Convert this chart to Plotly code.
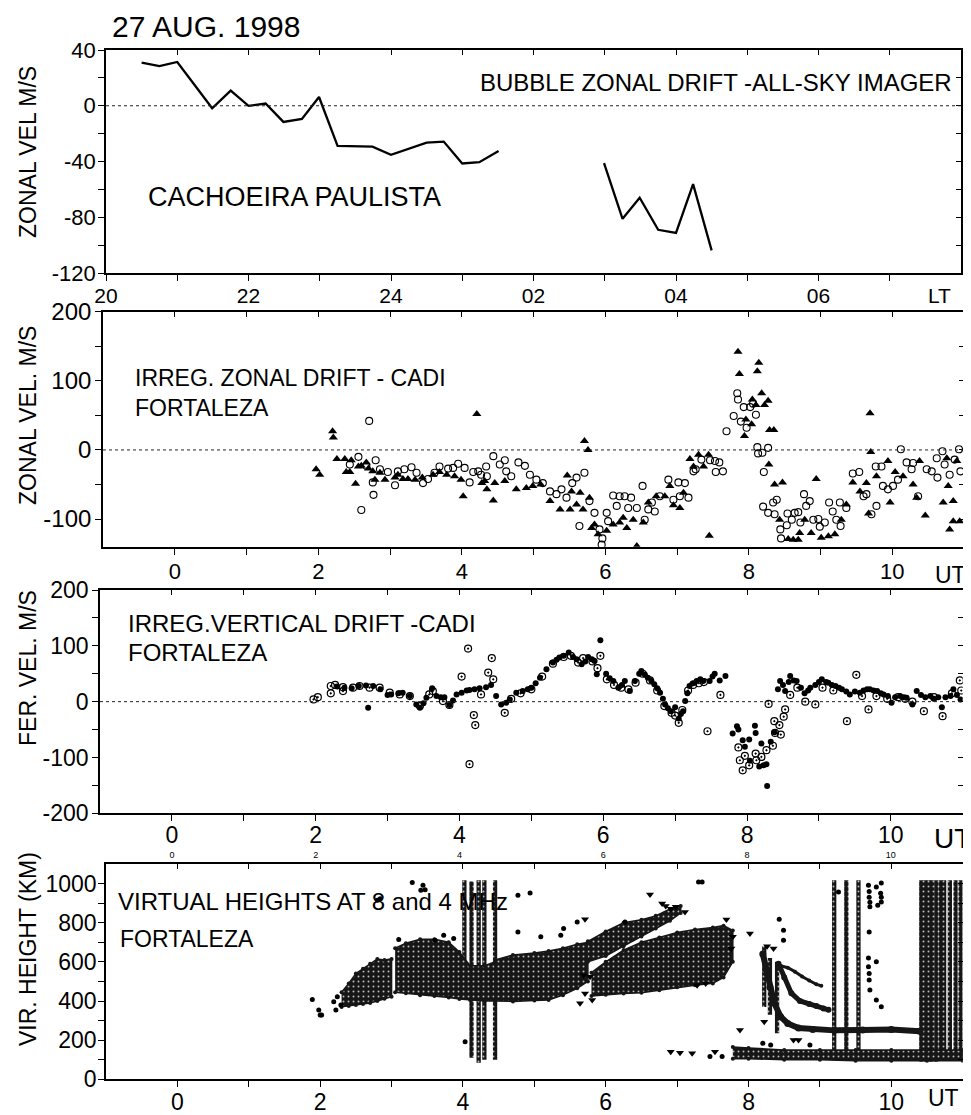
import plotly.graph_objects as go

# browser body margin offsets the figure by 8 px; the figure fills the rest of the window
WIN_W, WIN_H, OFF = 971, 1115, 8
W, H = WIN_W - OFF, WIN_H - OFF
FONT = "Liberation Sans, Arial, Helvetica, sans-serif"

# ---------------- Panel 1: bubble zonal drift (all-sky imager), LT hours ----------------
bubble_lt_a = [20.50, 20.75, 21.00, 21.49, 21.75, 22.00, 22.24, 22.49, 22.75, 22.99,
               23.25, 23.50, 23.74, 24.00, 24.25, 24.50, 24.74, 25.00, 25.24, 25.51]
bubble_vel_a = [30.9, 28.5, 31.4, -1.8, 10.9, -0.1, 1.6, -11.6, -9.4, 6.3,
                -28.8, -29.0, -29.3, -35.2, -31.0, -26.4, -25.7, -41.4, -40.5, -32.4]
bubble_lt_b = [26.99, 27.25, 27.49, 27.75, 28.00, 28.24, 28.50]
bubble_vel_b = [-41.2, -81.1, -66.0, -89.0, -91.3, -56.2, -103.8]

lt_tickvals = [20, 22, 24, 26, 28, 30]
lt_ticktext = ["20", "22", "24", "02", "04", "06"]
lt_minor = [21, 23, 25, 27, 29, 31]
lt_all = list(range(20, 33))
p1_yticks = [-120, -80, -40, 0, 40]
p1_yminor = [-100, -60, -20, 20]
p1_yall = list(range(-120, 41, 20))

# ---------------- Panel 2: irregularity zonal drift (CADI), UT hours ----------------
zon_tri_ut = [1.97, 2.02, 2.20, 2.21, 2.26, 2.37, 2.39, 2.44, 2.46, 2.52, 2.56, 2.60, 2.67, 2.70,
              2.76, 2.79, 2.86, 2.93, 3.07, 3.11, 3.18, 3.25, 3.35, 3.45, 3.60, 3.69, 3.79, 3.90,
              3.99, 4.02, 4.21, 4.28, 4.32, 4.35, 4.44, 4.46, 4.60, 4.76, 4.90, 4.99, 5.10, 5.23,
              5.37, 5.47, 5.51, 5.53, 5.60, 5.65, 5.69, 5.71, 5.76, 5.78, 5.81, 5.85, 5.90, 6.02,
              6.11, 6.20, 6.25, 6.30, 6.39, 6.44, 6.53, 6.60, 6.71, 6.83, 6.90, 6.95, 7.04, 7.09,
              7.18, 7.23, 7.30, 7.37, 7.44, 7.45, 7.85, 7.87, 7.94, 7.96, 8.04, 8.05, 8.10, 8.12,
              8.14, 8.18, 8.22, 8.27, 8.28, 8.29, 8.35, 8.36, 8.43, 8.47, 8.55, 8.62, 8.69, 8.71,
              8.78, 8.87, 8.94, 9.01, 9.11, 9.20, 9.29, 9.36, 9.45, 9.55, 9.64, 9.67, 9.69, 9.70,
              9.78, 9.94, 9.97, 10.04, 10.15, 10.29, 10.34, 10.38, 10.46, 10.71, 10.76, 10.78,
              10.80, 10.85, 10.85, 10.90, 10.94]
zon_tri_v = [-28, -36, 27, 18, -13, -13, -32, -32, -15, -49, -24, -23, -18, -27,
             -31, -43, -33, -43, -40, -36, -42, -42, -43, -40, -36, -32, -36, -38,
             -43, -67, 52, -48, -45, -57, -73, -48, -45, -57, -55, -52, -50, -74,
             -86, -37, -86, -60, -79, -62, -86, 13, 0, -69, -113, -108, -122, -117,
             -108, -105, -98, -113, -101, -139, -105, -76, -67, -67, -52, -80, -84, -62,
             -13, -24, -7, -24, -7, -124, 142, 110, 20, 44, 37, 73, 65, 114,
             126, 82, 65, 71, -21, 29, 29, -50, -101, -47, -129, -130, -130, -120,
             -101, -120, -42, -127, -125, -122, -101, -79, -47, -60, -48, -92, 53, -3,
             -38, -16, -76, -32, -38, -50, -69, -16, -95, -76, -12, -52,
             -115, -74, -103, -16, -103]

zon_cir_ut = [2.44, 2.56, 2.60, 2.67, 2.71, 2.76, 2.77, 2.80, 2.86, 2.97, 3.07, 3.11, 3.20, 3.30,
              3.37, 3.46, 3.53, 3.62, 3.69, 3.81, 3.88, 3.95, 4.04, 4.11, 4.16, 4.23, 4.27, 4.34,
              4.35, 4.44, 4.53, 4.60, 4.62, 4.69, 4.79, 4.88, 4.95, 5.04, 5.13, 5.23, 5.32, 5.39,
              5.46, 5.54, 5.60, 5.64, 5.71, 5.78, 5.85, 5.92, 5.95, 5.96, 6.02, 6.04, 6.11, 6.16,
              6.20, 6.27, 6.32, 6.36, 6.44, 6.52, 6.55, 6.60, 6.65, 6.69, 6.76, 6.88, 6.95, 7.02,
              7.04, 7.11, 7.16, 7.23, 7.26, 7.34, 7.46, 7.53, 7.54, 7.59, 7.64, 7.69, 7.79, 7.84,
              7.85, 7.89, 7.93, 7.97, 8.02, 8.06, 8.10, 8.12, 8.13, 8.19, 8.20, 8.21, 8.27, 8.27,
              8.34, 8.36, 8.39, 8.44, 8.45, 8.53, 8.54, 8.60, 8.64, 8.69, 8.72, 8.77, 8.80, 8.85,
              8.90, 8.97, 8.99, 9.06, 9.12, 9.17, 9.22, 9.27, 9.28, 9.36, 9.45, 9.54, 9.60, 9.64,
              9.71, 9.77, 9.78, 9.85, 9.87, 9.94, 10.01, 10.08, 10.12, 10.20, 10.27, 10.29, 10.36,
              10.48, 10.55, 10.62, 10.63, 10.70, 10.73, 10.80, 10.87, 10.93, 10.95]
zon_cir_v = [-21, -10, -87, -23, 42, -47, -65, -15, -28, -32, -51, -31, -28, -25,
             -33, -48, -42, -33, -24, -27, -26, -20, -26, -47, -32, -31, -36, -24,
             -38, -9, -21, -15, -31, -38, -18, -23, -36, -43, -48, -60, -64, -57,
             -69, -48, -40, -110, -33, -74, -91, -115, -137, -128, -91, -103, -66, -81,
             -67, -67, -84, -69, -84, -52, -101, -86, -76, -89, -67, -43, -72, -47,
             -67, -48, -69, -31, -28, -14, -15, -16, -32, -18, -31, 27, 49, 82,
             73, 41, 62, 32, 62, 67, 51, 4, -5, -4, -82, -32, 3, -91,
             -76, -93, -72, -115, -128, -109, -92, -101, -91, -90, -105, -64, -81, -74,
             -101, -100, -111, -105, -76, -89, -101, -76, -110, -84, -34, -32, -67, -64,
             -93, -24, -81, -24, -52, -57, -52, -43, 1, -18, -28, -19, -67,
             -28, -31, -12, -40, -2, -21, -36, -14, 1, -31]

ut_tickvals = [0, 2, 4, 6, 8, 10]
ut_ticktext = ["0", "2", "4", "6", "8", "10"]
ut_minor = [1, 3, 5, 7, 9]
ut_all = list(range(0, 11))
p2_yticks = [-100, 0, 100, 200]
p2_yminor = [-50, 50, 150]
p2_yall = [-100, -50, 0, 50, 100, 150, 200]

# ---------------- Panel 3: irregularity vertical drift (CADI) ----------------
ver_fill_ut = [2.30, 2.40, 2.50, 2.60, 2.70, 2.73, 2.80, 2.90, 3.00, 3.05, 3.15, 3.21, 3.31, 3.40,
               3.45, 3.50, 3.54, 3.62, 3.68, 3.74, 3.79, 3.86, 3.91, 3.96, 4.03, 4.10, 4.14, 4.21,
               4.28, 4.37, 4.44, 4.51, 4.58, 4.65, 4.70, 4.79, 4.88, 4.95, 5.00, 5.06, 5.12, 5.21,
               5.30, 5.35, 5.39, 5.45, 5.52, 5.58, 5.63, 5.70, 5.75, 5.79, 5.84, 5.88, 5.91, 5.96,
               6.04, 6.09, 6.14, 6.21, 6.26, 6.30, 6.37, 6.44, 6.50, 6.53, 6.58, 6.62, 6.67, 6.71,
               6.75, 6.79, 6.83, 6.86, 6.90, 6.94, 7.00, 7.05, 7.08, 7.11, 7.14, 7.17, 7.20, 7.25,
               7.30, 7.35, 7.39, 7.48, 7.52, 7.55, 7.62, 7.70, 7.80, 7.86, 7.88, 7.94, 7.97, 8.03,
               8.04, 8.11, 8.12, 8.17, 8.20, 8.23, 8.27, 8.28, 8.33, 8.38, 8.43, 8.46, 8.50, 8.53,
               8.58, 8.60, 8.65, 8.69, 8.75, 8.80, 8.85, 8.88, 8.95, 9.00, 9.04, 9.10, 9.13, 9.18,
               9.23, 9.28, 9.32, 9.38, 9.43, 9.50, 9.57, 9.62, 9.67, 9.71, 9.76, 9.81, 9.86, 9.90,
               9.96, 10.01, 10.06, 10.13, 10.18, 10.22, 10.30, 10.36, 10.42, 10.48, 10.55, 10.60,
               10.66, 10.71, 10.76, 10.83, 10.87, 10.92, 10.97]
ver_fill_v = [27, 25, 24, 28, 29, -11, 28, 22, 12, 13, 15, 16, 10, -5,
              -11, -3, 7, 24, 10, 8, 8, -6, 2, 13, 16, 20, 21, 22,
              24, 26, 30, 10, -5, -2, 4, 16, 19, 22, 25, 33, 43, 58,
              70, 75, 79, 82, 88, 80, 76, 67, 72, 80, 76, 73, 49, 110,
              50, 42, 37, 25, 30, 37, 19, 37, 50, 55, 48, 43, 37, 31,
              24, 16, 5, -5, -12, -17, -10, -30, -22, -17, 1, 15, 28, 33,
              37, 40, 37, 37, 45, 50, 38, 46, -57, -44, -50, -69, -81, -68,
              -106, -43, -56, -116, -75, -114, -112, -151, -72, -55, 22, 37, 30, 19,
              35, 46, 38, 37, 25, 15, 20, 25, 30, 35, 40, 35, 34, 30,
              28, 25, 22, 18, 13, 18, 16, 20, 22, 22, 20, 19, 15, 13,
              10, -2, 8, 10, 8, 7, -5, 19, 12, 8, 10, 5,
              8, -10, 8, 10, 22, 12, 4]

ver_dot_ut = [1.97, 2.03, 2.21, 2.21, 2.27, 2.38, 2.38, 2.52, 2.61, 2.75, 2.89, 3.03, 3.17, 3.31,
              3.45, 3.58, 3.63, 3.77, 3.86, 4.03, 4.12, 4.14, 4.20, 4.22, 4.30, 4.40, 4.45, 4.47,
              4.63, 4.72, 4.85, 5.00, 5.15, 5.30, 5.45, 5.55, 5.65, 5.72, 5.85, 5.92, 5.96, 6.05,
              6.15, 6.25, 6.35, 6.45, 6.55, 6.65, 6.75, 6.85, 6.95, 7.00, 7.05, 7.10, 7.18, 7.25,
              7.33, 7.40, 7.45, 7.63, 7.88, 7.90, 7.94, 7.97, 8.03, 8.12, 8.13, 8.20, 8.27, 8.30,
              8.36, 8.38, 8.39, 8.45, 8.47, 8.51, 8.53, 8.60, 8.70, 8.81, 8.95, 9.05, 9.20, 9.39,
              9.52, 9.60, 9.69, 9.80, 9.95, 10.10, 10.20, 10.30, 10.46, 10.60, 10.72, 10.85,
              10.96, 10.98]
ver_dot_v = [4, 8, 15, 28, 30, 19, 26, 25, 28, 25, 25, 16, 13, 10,
             -8, 13, 19, 1, -6, 45, 95, -112, -24, -42, 13, 52, 78, 40,
             -20, 5, 15, 22, 45, 68, 80, 82, 70, 78, 72, 60, 82, 40,
             30, 25, 22, 34, 50, 38, 20, -8, -20, -25, -38, -15, 20, 30,
             33, 35, -53, 12, -82, -105, -123, -97, -114, -93, -105, -99, -87, -4,
             -79, -35, -56, -42, -59, -27, -14, 12, 25, 0, -5, 25, 20, -35,
             48, 10, -14, 10, 5, 8, 5, 0, -17, 8, -26, 15,
             38, 20]

p3_yticks = [-200, -100, 0, 100, 200]
p3_yminor = [-150, -50, 50, 150]
p3_yall = [-200, -150, -100, -50, 0, 50, 100, 150, 200]

# ---------------- Panel 4: virtual heights at 8 and 4 MHz ----------------
band_a_ut = [2.30, 2.40, 2.50, 2.60, 2.70, 2.80, 2.90, 3.00]
band_a_lo = [370, 375, 380, 385, 390, 400, 412, 422]
band_a_hi = [445, 490, 540, 565, 590, 615, 610, 615]

band_b_ut = [3.05, 3.20, 3.40, 3.60, 3.80, 3.95, 4.10, 4.30, 4.45]
band_b_lo = [445, 440, 430, 425, 418, 410, 405, 400, 400]
band_b_hi = [670, 695, 715, 715, 700, 650, 580, 580, 600]

band_c_ut = [4.45, 4.70, 5.00, 5.20, 5.40, 5.60, 5.75]
band_c_lo = [400, 398, 402, 405, 430, 465, 500]
band_c_hi = [610, 635, 645, 655, 670, 690, 700]

band_e_ut = [5.75, 6.00, 6.25, 6.50, 6.70, 6.90, 7.05]
band_e_lo = [600, 630, 680, 730, 770, 810, 850]
band_e_hi = [705, 755, 800, 815, 835, 870, 885]

band_d_ut = [5.80, 6.00, 6.25, 6.50, 6.75, 7.00, 7.25, 7.50, 7.65, 7.78]
band_d_lo = [425, 432, 438, 442, 455, 470, 480, 490, 520, 600]
band_d_hi = [545, 600, 660, 700, 725, 750, 765, 775, 785, 760]

band_low_ut = [7.78, 8.00, 8.50, 9.00, 9.50, 10.00, 10.50, 11.00]
band_low_lo = [105, 105, 100, 100, 95, 95, 95, 95]
band_low_hi = [165, 160, 150, 150, 150, 150, 150, 150]

col_ut = [4.02, 4.12, 4.22, 4.30, 4.45, 8.22, 8.30, 8.40, 9.20, 9.37, 9.54,
          10.42, 10.47, 10.52, 10.57, 10.63, 10.69, 10.74, 10.82, 10.90, 10.97]
col_lo = [600, 110, 85, 100, 100, 370, 330, 235, 100, 95, 95,
          90, 90, 90, 90, 90, 95, 100, 100, 100, 100]
col_hi = [1017, 1010, 1017, 1017, 1017, 680, 620, 600, 1017, 1017, 1017,
          1017, 1017, 1017, 1017, 1017, 1017, 1017, 1017, 1017, 1017]

trace_f1_ut = [8.20, 8.25, 8.30, 8.36, 8.45, 8.55, 8.70, 8.90, 9.20, 9.60, 10.00, 10.40]
trace_f1_h = [640, 560, 470, 390, 320, 285, 262, 255, 250, 252, 255, 245]
trace_f2_ut = [8.42, 8.50, 8.60, 8.72, 8.85, 8.95, 9.05, 9.12]
trace_f2_h = [590, 520, 440, 400, 385, 375, 362, 355]
trace_f3_ut = [8.45, 8.55, 8.65, 8.75, 8.85, 8.95, 9.02]
trace_f3_h = [580, 570, 550, 525, 505, 485, 478]

dot_ut = [1.89, 1.98, 2.00, 2.02, 2.19, 2.22, 2.24, 2.29, 2.80, 2.84, 3.10, 3.29, 3.41, 3.44,
          3.47, 3.61, 3.73, 3.87, 4.03, 4.77, 4.94, 4.77, 5.09, 5.37, 5.41, 5.60, 6.27, 7.30,
          7.35, 8.43, 8.49, 8.49, 9.26, 9.68, 9.79, 9.86, 9.70, 9.69, 9.79, 9.68, 9.69, 9.70,
          9.79, 9.86, 9.81, 9.86, 8.20, 8.31, 8.86, 9.69, 9.69, 9.70, 9.68, 9.69, 9.85, 9.86,
          7.46, 7.63]
dot_h = [408, 354, 328, 328, 396, 354, 422, 380, 915, 923, 714, 1005, 966, 991,
         969, 711, 736, 719, 192, 940, 952, 753, 728, 736, 770, 804, 804, 1008,
         1008, 818, 762, 711, 957, 991, 983, 1003, 881, 753, 600, 575, 507, 456,
         405, 371, 889, 906, 184, 175, 175, 960, 930, 905, 620, 540, 950, 930,
         116, 116]

tri_ut = [5.64, 5.71, 5.81, 5.69, 5.78, 6.62, 6.79, 6.84, 6.91, 6.98, 7.11, 7.28, 7.40, 7.69,
          7.76, 7.78, 8.02, 8.26, 8.35, 7.88, 8.22, 8.63, 8.70, 6.91, 7.04, 7.21, 7.53, 5.71]
tri_h = [388, 439, 405, 532, 524, 944, 898, 885, 872, 881, 855, 481, 490, 816,
         668, 728, 745, 680, 668, 252, 294, 201, 201, 141, 136, 133, 141, 818]

p4_yticks = [0, 200, 400, 600, 800, 1000]
p4_yminor = [100, 300, 500, 700, 900]
p4_yall = list(range(0, 1001, 100))

# ---------------- figure ----------------
fig = go.Figure()
K = "black"
DARK = "#161616"

# panel 1
for xs, ys in ((bubble_lt_a, bubble_vel_a), (bubble_lt_b, bubble_vel_b)):
    fig.add_trace(go.Scatter(x=xs, y=ys, mode="lines", line=dict(color=K, width=2.3),
                             xaxis="x", yaxis="y"))

# panel 2
fig.add_trace(go.Scatter(x=zon_cir_ut, y=zon_cir_v, mode="markers", xaxis="x2", yaxis="y2",
                         marker=dict(symbol="circle-open", size=7, color=K, line=dict(width=1.1))))
fig.add_trace(go.Scatter(x=zon_tri_ut, y=zon_tri_v, mode="markers", xaxis="x2", yaxis="y2",
                         marker=dict(symbol="triangle-up", size=8, color=K)))

# panel 3
fig.add_trace(go.Scatter(x=ver_fill_ut, y=ver_fill_v, mode="markers", xaxis="x3", yaxis="y3",
                         marker=dict(symbol="circle", size=6, color=K)))
fig.add_trace(go.Scatter(x=ver_dot_ut, y=ver_dot_v, mode="markers", xaxis="x3", yaxis="y3",
                         marker=dict(symbol="circle-open-dot", size=7, color=K, line=dict(width=1.2))))

# panel 4
def band(ut, lo, hi):
    return go.Scatter(x=ut + ut[::-1], y=lo + hi[::-1], mode="lines+markers", fill="toself",
                      fillcolor=DARK,
                      fillpattern=dict(shape=".", fgcolor="#bbbbbb", bgcolor=DARK, size=5, solidity=0.12),
                      line=dict(color=DARK, width=1.5),
                      marker=dict(size=4, color=DARK), xaxis="x4", yaxis="y4")

for ut, lo, hi in ((band_a_ut, band_a_lo, band_a_hi), (band_b_ut, band_b_lo, band_b_hi),
                   (band_c_ut, band_c_lo, band_c_hi), (band_e_ut, band_e_lo, band_e_hi),
                   (band_d_ut, band_d_lo, band_d_hi), (band_low_ut, band_low_lo, band_low_hi)):
    fig.add_trace(band(ut, lo, hi))

fig.add_trace(go.Bar(x=col_ut, y=[h - l for h, l in zip(col_hi, col_lo)], base=col_lo, width=0.06,
                     marker=dict(color=DARK, line=dict(width=0),
                                 pattern=dict(shape=".", fgcolor="#bbbbbb", bgcolor=DARK, size=5,
                                              solidity=0.12)),
                     xaxis="x4", yaxis="y4"))
for xs, ys, wd in ((trace_f1_ut, trace_f1_h, 6), (trace_f2_ut, trace_f2_h, 5), (trace_f3_ut, trace_f3_h, 3)):
    fig.add_trace(go.Scatter(x=xs, y=ys, mode="lines+markers", line=dict(color=DARK, width=wd),
                             marker=dict(size=wd + 1, color=DARK), xaxis="x4", yaxis="y4"))
fig.add_trace(go.Scatter(x=dot_ut, y=dot_h, mode="markers", xaxis="x4", yaxis="y4",
                         marker=dict(symbol="circle", size=5, color=K)))
fig.add_trace(go.Scatter(x=tri_ut, y=tri_h, mode="markers", xaxis="x4", yaxis="y4",
                         marker=dict(symbol="triangle-down", size=7, color=K)))

# empty traces to activate the mirror-tick overlay axes
for i in range(5, 9):
    fig.add_trace(go.Scatter(x=[None], y=[None], xaxis=f"x{i}", yaxis=f"y{i}", hoverinfo="skip"))
fig.add_trace(go.Scatter(x=[None], y=[None], xaxis="x9", yaxis="y7", hoverinfo="skip"))


def dx(l, r):
    return [(l - OFF) / W, (r - OFF) / W]


def dy(t, b):
    return [1 - (b - OFF) / H, 1 - (t - OFF) / H]


def main_x(dom, rng, tv, tt, mv, fs, standoff, anchor):
    return dict(domain=dom, range=rng, anchor=anchor, tickvals=tv, ticktext=tt, ticks="outside",
                ticklen=6, tickwidth=1.3, tickcolor=K, showline=True, linewidth=1.6, linecolor=K,
                mirror=True, showgrid=False, zeroline=False, tickfont=dict(size=fs, color=K),
                ticklabelstandoff=standoff, automargin=False,
                minor=dict(tickvals=mv, ticks="outside", ticklen=6, tickwidth=1.3, tickcolor=K,
                           showgrid=False))


def main_y(dom, rng, tv, mv, fs, standoff, anchor):
    return dict(domain=dom, range=rng, anchor=anchor, tickvals=tv, ticktext=[str(v) for v in tv],
                ticks="outside", ticklen=6, tickwidth=1.3, tickcolor=K, showline=True,
                linewidth=1.6, linecolor=K, mirror=True, showgrid=False, zeroline=False,
                tickfont=dict(size=fs, color=K), ticklabelstandoff=standoff, automargin=False,
                minor=dict(tickvals=mv, ticks="outside", ticklen=6, tickwidth=1.3, tickcolor=K,
                           showgrid=False))


def top_x(over, rng, tv, anchor):
    return dict(overlaying=over, side="top", anchor=anchor, range=rng, tickvals=tv, ticks="inside",
                ticklen=5, tickwidth=1.3, tickcolor=K, showticklabels=False, showline=False,
                showgrid=False, zeroline=False, automargin=False)


def right_y(over, rng, tv, anchor):
    return dict(overlaying=over, side="right", anchor=anchor, range=rng, tickvals=tv, ticks="inside",
                ticklen=5, tickwidth=1.3, tickcolor=K, showticklabels=False, showline=False,
                showgrid=False, zeroline=False, automargin=False)


R1 = [20, 32]
RU = [-1, 11]
D1x, D1y = dx(106, 961), dy(50, 273)
D2x, D2y = dx(103, 964), dy(311.7, 546.7)
D3x, D3y = dx(100, 962.7), dy(590, 813.3)
D4x, D4y = dx(106, 962.7), dy(864, 1079.3)

layout = dict(
    template="none",
    width=W, height=H, margin=dict(l=0, r=0, t=0, b=0, pad=0, autoexpand=False),
    paper_bgcolor="white", plot_bgcolor="white", showlegend=False, barmode="overlay",
    font=dict(family=FONT, color=K),
    xaxis=main_x(D1x, R1, lt_tickvals, lt_ticktext, lt_minor, 21, -3, "y"),
    yaxis=main_y(D1y, [-120, 40], p1_yticks, p1_yminor, 22, -2, "x"),
    xaxis2=main_x(D2x, RU, ut_tickvals, ut_ticktext, ut_minor, 22, -2, "y2"),
    yaxis2=main_y(D2y, [-140, 200], p2_yticks, p2_yminor, 24, -1, "x2"),
    xaxis3=main_x(D3x, RU, ut_tickvals, ut_ticktext, ut_minor, 23, -6, "y3"),
    yaxis3=main_y(D3y, [-200, 200], p3_yticks, p3_yminor, 23, -1, "x3"),
    xaxis4=main_x(D4x, RU, ut_tickvals, ut_ticktext, ut_minor, 23, -5, "y4"),
    yaxis4=main_y(D4y, [0, 1100], p4_yticks, p4_yminor, 23, -3, "x4"),
    xaxis5=top_x("x", R1, lt_all, "y"),
    yaxis5=right_y("y", [-120, 40], p1_yall, "x"),
    xaxis6=top_x("x2", RU, ut_all, "y2"),
    yaxis6=right_y("y2", [-140, 200], p2_yall, "x2"),
    xaxis7=top_x("x3", RU, ut_all, "y3"),
    yaxis7=right_y("y3", [-200, 200], p3_yall, "x3"),
    xaxis8=top_x("x4", RU, ut_all, "y4"),
    yaxis8=right_y("y4", [0, 1100], p4_yall, "x4"),
    xaxis9=dict(overlaying="x3", side="bottom", anchor="y3", range=RU, tickvals=ut_tickvals,
                ticktext=ut_ticktext, ticks="", showline=False, showgrid=False, zeroline=False,
                tickfont=dict(size=9, color=K), ticklabelstandoff=35, automargin=False),
)
fig.update_layout(**layout)

# dotted zero reference lines
for xr, yr in (("x", "y"), ("x2", "y2"), ("x3", "y3")):
    fig.add_shape(type="line", xref=f"{xr} domain", x0=0, x1=1, yref=yr, y0=0, y1=0,
                  line=dict(color="#222", width=1, dash="dot"))


def ann(text, px, py, size, xanchor="left", angle=0, yanchor="middle"):
    fig.add_annotation(text=text, x=(px - OFF) / W, y=1 - (py - OFF) / H, xref="paper", yref="paper",
                       xanchor=xanchor, yanchor=yanchor, showarrow=False, textangle=angle,
                       font=dict(size=size, family=FONT, color=K))


ann("27 AUG. 1998", 110, 8, 30, yanchor="top")
ann("BUBBLE ZONAL DRIFT -ALL-SKY IMAGER", 954, 82, 24, "right")
ann("CACHOEIRA PAULISTA", 146, 197, 27)
ann("LT", 926, 295, 21)
ann("IRREG. ZONAL DRIFT - CADI", 133, 378, 23)
ann("FORTALEZA", 133, 408, 23)
ann("UT", 933, 575, 23)
ann("IRREG.VERTICAL DRIFT -CADI", 126, 623, 24)
ann("FORTALEZA", 126, 652, 24)
ann("UT", 932, 838, 28)
ann("VIRTUAL HEIGHTS AT 8 and 4 MHz", 116, 901, 24)
ann("FORTALEZA", 118, 939, 23)
ann("UT", 926, 1098, 23)
ann("ZONAL VEL M/S", 28, 152, 23, "center", -90)
ann("ZONAL VEL. M/S", 28, 416, 23, "center", -90)
ann("FER. VEL. M/S", 28, 668, 23, "center", -90)
ann("VIR. HEIGHT (KM)", 28, 949, 23, "center", -90)

fig.write_html("out.html")
